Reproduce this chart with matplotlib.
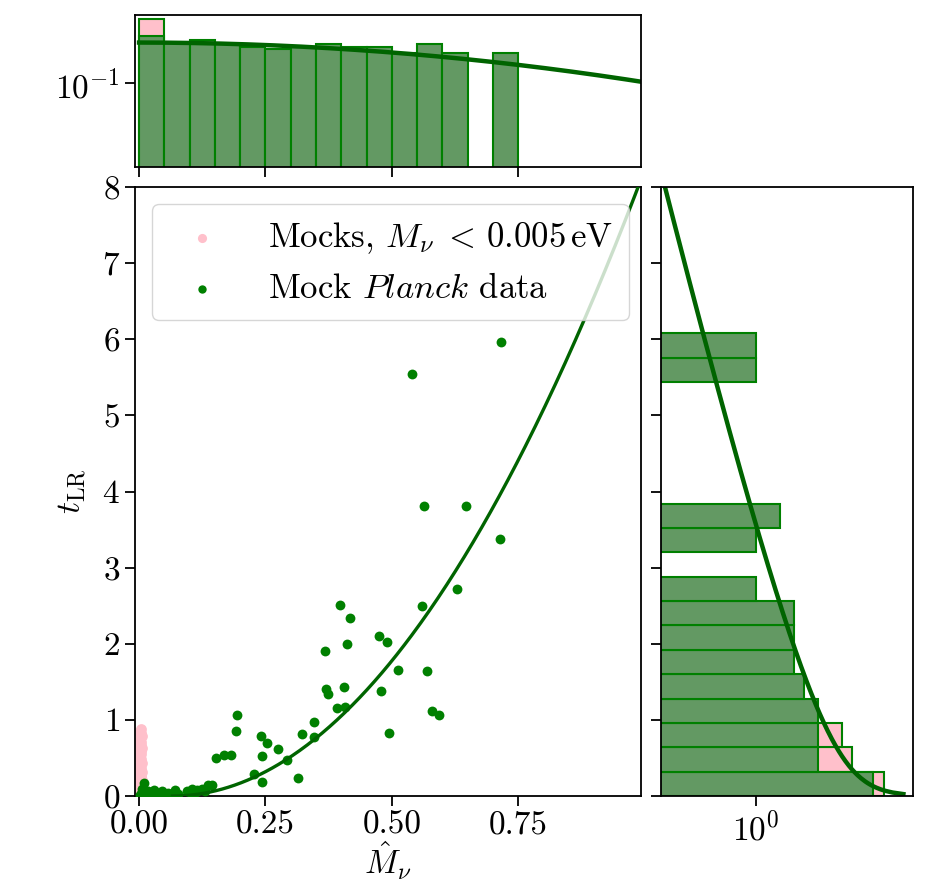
import numpy as np
import matplotlib
matplotlib.use("Agg")
import matplotlib.pyplot as plt
from matplotlib.ticker import NullLocator, FormatStrFormatter

plt.rcParams["font.family"] = "serif"
plt.rcParams["font.serif"] = ["cmr10", "DejaVu Serif"]
plt.rcParams["mathtext.fontset"] = "cm"
plt.rcParams["axes.formatter.use_mathtext"] = True
plt.rcParams["axes.unicode_minus"] = False

FS = 24

# Mock Planck data: best-fit neutrino mass and likelihood-ratio statistic
planck_m = [
    0.002, 0.003, 0.006, 0.009, 0.005, 0.012, 0.018, 0.024, 0.029, 0.035, 0.039, 0.046,
    0.051, 0.058, 0.066, 0.072, 0.078, 0.095,
    0.103, 0.105, 0.112, 0.115, 0.124, 0.131, 0.136, 0.145,
    0.715, 0.539, 0.563, 0.647, 0.714, 0.629, 0.559, 0.397, 0.418, 0.475,
    0.490, 0.411, 0.368, 0.512, 0.569, 0.369, 0.374, 0.405, 0.479, 0.391,
    0.408, 0.579, 0.594, 0.346, 0.323, 0.345, 0.495, 0.315, 0.293, 0.275,
    0.241, 0.253, 0.243, 0.227, 0.243, 0.193, 0.192, 0.152, 0.167, 0.182,
]
planck_t = [
    0.01, 0.02, 0.09, 0.17, 0.05, 0.03, 0.06, 0.02, 0.075, 0.03, 0.04, 0.06,
    0.02, 0.035, 0.02, 0.075, 0.02, 0.07,
    0.04, 0.09, 0.05, 0.075, 0.09, 0.06, 0.145, 0.145,
    5.96, 5.54, 3.81, 3.81, 3.37, 2.72, 2.50, 2.51, 2.34, 2.10,
    2.02, 2.00, 1.90, 1.66, 1.64, 1.41, 1.34, 1.43, 1.38, 1.15,
    1.17, 1.12, 1.07, 0.97, 0.82, 0.78, 0.83, 0.23, 0.47, 0.62,
    0.79, 0.70, 0.52, 0.29, 0.19, 1.06, 0.86, 0.50, 0.54, 0.54,
]

# Mocks generated with M_nu < 0.005 eV
mock_m = [
    0.001, 0.003, 0.000, 0.004, 0.002, 0.001, 0.005, 0.003, 0.002, 0.004,
    0.000, 0.002, 0.004, 0.001, 0.003, 0.005, 0.002, 0.000, 0.003, 0.001,
    0.004, 0.002, 0.001, 0.003, 0.000, 0.004, 0.002, 0.005, 0.001, 0.003,
    0.002, 0.004, 0.000, 0.001, 0.003, 0.002, 0.004, 0.001, 0.005, 0.002,
    0.003, 0.001, 0.004, 0.000, 0.002, 0.005, 0.003, 0.001, 0.004, 0.002,
    0.000, 0.003, 0.001, 0.004, 0.002, 0.005,
    0.001, 0.003, 0.000, 0.004, 0.002, 0.001, 0.003, 0.005, 0.002, 0.004, 0.001, 0.003,
]
mock_t = [
    0.00, 0.01, 0.01, 0.02, 0.02, 0.03, 0.03, 0.04, 0.05, 0.05,
    0.06, 0.07, 0.08, 0.08, 0.09, 0.10, 0.11, 0.12, 0.12, 0.13,
    0.14, 0.15, 0.16, 0.17, 0.18, 0.19, 0.20, 0.21, 0.22, 0.23,
    0.24, 0.25, 0.26, 0.27, 0.28, 0.29, 0.30, 0.30, 0.31, 0.31,
    0.33, 0.35, 0.37, 0.39, 0.41, 0.43, 0.45, 0.47, 0.49, 0.51,
    0.53, 0.55, 0.57, 0.59, 0.61, 0.63,
    0.65, 0.67, 0.69, 0.71, 0.73, 0.75, 0.77, 0.79, 0.81, 0.83, 0.85, 0.88,
]

# Model curves
curve_m0, curve_scale = 0.066, 0.3256      # t = ((M - m0) / scale)^2 for M > m0
gauss_amp, gauss_sigma = 6.0, 0.353        # expected counts per M bin
chi2_amp = 28.0                            # expected counts per t bin

m_bins = np.linspace(0.0, 0.75, 16)
t_bins = np.linspace(0.0, 8.0, 26)

W, H = 933, 882
fig = plt.figure(figsize=(W / 100, H / 100), dpi=100)


def box(l, r, t, b):
    return [l / W, 1 - b / H, (r - l) / W, (b - t) / H]


ax_top = fig.add_axes(box(134.5, 640.7, 15, 167))
ax = fig.add_axes(box(134.5, 640.7, 187, 796))
ax_right = fig.add_axes(box(660.7, 913, 187, 796))

green = "green"
dark = "darkgreen"
fill = (0.39, 0.60, 0.39)

# Main scatter
ax.scatter(mock_m, mock_t, s=60, color="pink", linewidths=0, zorder=2,
           label=r"Mocks, $M_\nu\;<\,0.005\,\mathrm{eV}$")
ax.scatter(planck_m, planck_t, s=50, color=green, linewidths=0, zorder=3,
           label=r"Mock $\mathit{Planck}$ data")
mm = np.linspace(curve_m0, 1.05, 400)
ax.plot(mm, ((mm - curve_m0) / curve_scale) ** 2, color=dark, lw=2.4, zorder=4)
ax.set_xlim(-0.009, 0.992)
ax.set_ylim(0, 8)
ax.set_xticks([0.0, 0.25, 0.5, 0.75])
ax.xaxis.set_major_formatter(FormatStrFormatter("%.2f"))
ax.set_yticks(range(0, 9))
ax.set_xlabel(r"$\hat{M}_\nu$", fontsize=FS, labelpad=0)
ax.set_ylabel(r"$t_{\rm LR}$", fontsize=FS, labelpad=10)
ax.legend(loc="upper left", fontsize=25, frameon=True, borderpad=0.45,
          handletextpad=0.9, labelspacing=0.5, markerscale=0.85)

# Top histogram of M-hat
ax_top.hist(mock_m, bins=m_bins, facecolor="pink", edgecolor=green, lw=1.5)
ax_top.hist(planck_m, bins=m_bins, facecolor=fill, edgecolor=green, lw=1.5)
mx = np.linspace(0, 1.0, 300)
ax_top.plot(mx, gauss_amp * np.exp(-mx ** 2 / (2 * gauss_sigma ** 2)), color=dark, lw=3.2)
ax_top.set_yscale("log")
ax_top.set_xlim(ax.get_xlim())
ax_top.set_ylim(10 ** -4.68, 97)
ax_top.set_yticks([0.1])
ax_top.yaxis.set_minor_locator(NullLocator())
ax_top.set_xticks([0.0, 0.25, 0.5, 0.75])
ax_top.set_xticklabels([])

# Right histogram of t_LR
ax_right.hist(mock_t, bins=t_bins, orientation="horizontal", facecolor="pink",
              edgecolor=green, lw=1.5)
ax_right.hist(planck_t, bins=t_bins, orientation="horizontal", facecolor=fill,
              edgecolor=green, lw=1.5)
tt = np.linspace(0.025, 8.3, 400)
ax_right.plot(chi2_amp * np.exp(-tt / 2) / np.sqrt(2 * np.pi * tt), tt, color=dark, lw=3.2)
ax_right.set_xscale("log")
ax_right.set_xlim(0.064, 92)
ax_right.set_ylim(0, 8)
ax_right.set_xticks([1])
ax_right.xaxis.set_minor_locator(NullLocator())
ax_right.set_yticks(range(0, 9))
ax_right.set_yticklabels([])

for a in (ax, ax_top, ax_right):
    a.tick_params(direction="out", length=7, width=1.3, labelsize=FS)
    for sp in a.spines.values():
        sp.set_linewidth(1.3)

fig.savefig("out.png", dpi=100)
